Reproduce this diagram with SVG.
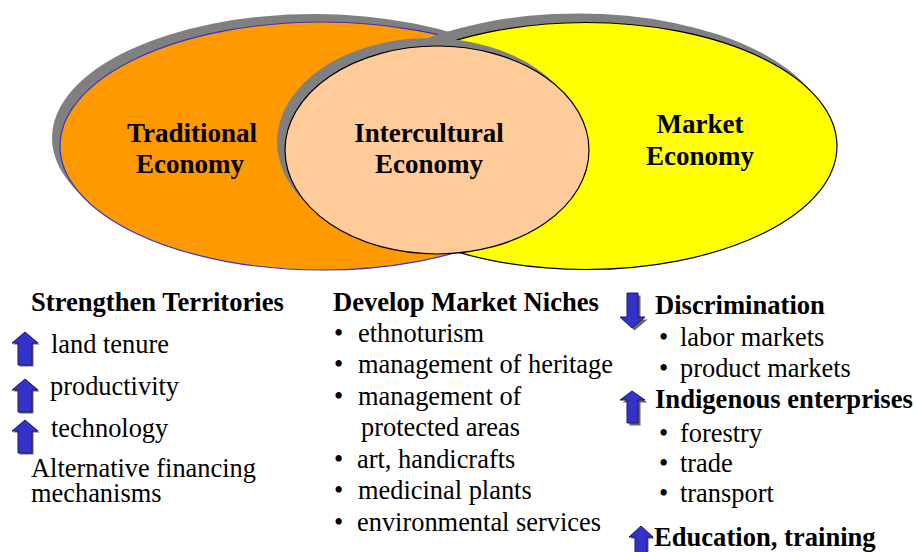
<svg xmlns="http://www.w3.org/2000/svg" width="915" height="552" viewBox="0 0 915 552">
  <style>
    .shadow { fill: #808080; stroke: none; }
    text { font-family: 'Liberation Serif', 'DejaVu Serif', serif; font-size: 26.4px; fill: #000; }
    .lbl { font-weight: bold; font-size: 27px; text-anchor: middle; }
    .hd { font-weight: bold; font-size: 26.6px; }
    .arrow { fill: #3333cc; stroke: #1a1a66; stroke-width: 1; }
    .ashadow { fill: #666; }
  </style>
  <defs>
    <polygon id="upBig" points="13,-16 0,-27 -13,-16 -7,-16 -7,6 7,6 7,-16"/>
  </defs>
  <rect width="915" height="552" fill="#fff"/>

  <!-- Venn circles -->
  <g id="traditional">
    <ellipse class="shadow" cx="314" cy="138" rx="262" ry="124"/>
    <ellipse cx="322" cy="146" rx="262" ry="124" fill="#ff9900" stroke="#3333cc" stroke-width="1.2"/>
  </g>
  <g id="market">
    <ellipse class="shadow" cx="578" cy="137" rx="251" ry="123.5"/>
    <ellipse cx="586" cy="146" rx="251" ry="123.5" fill="#ffff00" stroke="#000" stroke-width="1.2"/>
  </g>
  <g id="intercultural">
    <ellipse class="shadow" cx="429" cy="142" rx="152" ry="104"/>
    <ellipse cx="437" cy="150" rx="152" ry="104" fill="#ffcc99" stroke="#000" stroke-width="1.2"/>
  </g>
  <g id="labels">
    <text class="lbl" x="192" y="142">Traditional</text>
    <text class="lbl" x="190" y="173">Economy</text>
    <text class="lbl" x="429" y="142">Intercultural</text>
    <text class="lbl" x="429" y="173">Economy</text>
    <text class="lbl" x="700" y="133">Market</text>
    <text class="lbl" x="700" y="165">Economy</text>
  </g>

  <!-- Column 1 -->
  <g id="territories">
    <text class="hd" x="31" y="311">Strengthen Territories</text>
    <g transform="translate(25,359)">
      <use href="#upBig" class="ashadow" transform="translate(1.5,1.5)"/>
      <use href="#upBig" class="arrow"/>
    </g>
    <text x="51" y="353">land tenure</text>
    <g transform="translate(25,406)">
      <use href="#upBig" class="ashadow" transform="translate(1.5,1.5)"/>
      <use href="#upBig" class="arrow"/>
    </g>
    <text x="50" y="395">productivity</text>
    <g transform="translate(25,447)">
      <use href="#upBig" class="ashadow" transform="translate(1.5,1.5)"/>
      <use href="#upBig" class="arrow"/>
    </g>
    <text x="51" y="437">technology</text>
    <text x="31" y="477">Alternative financing</text>
    <text x="31" y="502">mechanisms</text>
  </g>

  <!-- Column 2 -->
  <g id="niches">
    <text class="hd" x="333" y="311">Develop Market Niches</text>
    <text x="334" y="342">•</text><text x="358" y="342">ethnoturism</text>
    <text x="334" y="373">•</text><text x="358" y="373">management of heritage</text>
    <text x="334" y="405">•</text><text x="358" y="405">management of</text>
    <text x="361" y="436">protected areas</text>
    <text x="334" y="468">•</text><text x="357" y="468">art, handicrafts</text>
    <text x="334" y="499">•</text><text x="358" y="499">medicinal plants</text>
    <text x="334" y="531">•</text><text x="357" y="531">environmental services</text>
  </g>

  <!-- Column 3 -->
  <g id="discrimination">
    <polygon class="ashadow" points="628,294 639,294 639,318 646,318 633,329 621,318 628,318" transform="translate(1.5,1.5)"/>
    <polygon class="arrow" points="627,293 638,293 638,317 645,317 632,328 620,317 627,317"/>
    <text class="hd" x="655" y="314">Discrimination</text>
    <text x="659" y="346">•</text><text x="680" y="346">labor markets</text>
    <text x="659" y="377">•</text><text x="680" y="377">product markets</text>
  </g>
  <g id="enterprises">
    <polygon class="ashadow" points="633,392 646,401 639,401 639,424 628,424 628,401 621,401" transform="translate(1.5,1.5)"/>
    <polygon class="arrow" points="632,391 645,400 638,400 638,423 627,423 627,400 620,400"/>
    <text class="hd" x="655" y="408">Indigenous enterprises</text>
    <text x="659" y="442">•</text><text x="680" y="442">forestry</text>
    <text x="659" y="472">•</text><text x="680" y="472">trade</text>
    <text x="659" y="502">•</text><text x="680" y="502">transport</text>
  </g>
  <g id="education">
    <polygon class="ashadow" points="641,526 653,537 647,537 647,553 635,553 635,537 629,537" transform="translate(1.5,1.5)"/>
    <polygon class="arrow" points="641,526 653,537 647,537 647,553 635,553 635,537 629,537"/>
    <text class="hd" x="654" y="546">Education, training</text>
  </g>
</svg>
